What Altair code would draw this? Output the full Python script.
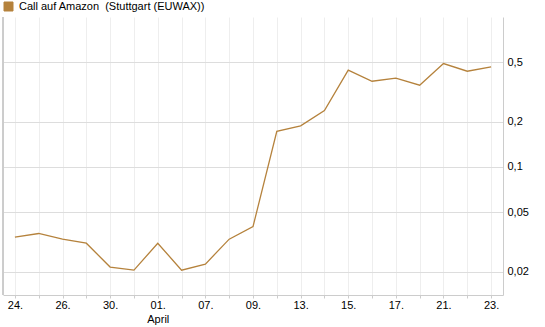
import altair as alt
import pandas as pd

dates = ["24.", "25.", "26.", "27.", "30.", "31.", "01.", "02.", "07.", "08.", "09.",
         "10.", "13.", "14.", "15.", "16.", "17.", "20.", "21.", "22.", "23."]
values = [0.034, 0.036, 0.033, 0.031, 0.0215, 0.0205, 0.031, 0.0205, 0.0225, 0.033, 0.040,
          0.173, 0.188, 0.238, 0.442, 0.373, 0.391, 0.351, 0.489, 0.435, 0.465]
shown_labels = ["24.", "26.", "30.", "01.", "07.", "09.", "13.", "15.", "17.", "21.", "23."]
y_ticks = [0.02, 0.05, 0.1, 0.2, 0.5]
series_name = "Call auf Amazon \u00a0(Stuttgart (EUWAX))"

df = pd.DataFrame({"date": dates, "value": values, "series": series_name})

W, H = 500, 278
FONT = "Liberation Sans"
LINE_COLOR = "#b5823c"

label_js = "[" + ",".join("'" + s + "'" for s in shown_labels) + "]"

x_enc = alt.X(
    "date:O",
    sort=dates,
    scale=alt.Scale(type="point", padding=0.5),
    axis=alt.Axis(
        title=None,
        labelAngle=0,
        labelExpr=f"datum.value == '01.' ? ['01.', 'April'] : (indexof({label_js}, datum.value) >= 0 ? datum.value : '')",
        labelFont=FONT,
        labelFontSize=11,
        labelColor="#000000",
        labelPadding=1,
        labelLineHeight=14,
        tickSize=3,
        tickColor="#cccccc",
        domainColor="#cccccc",
        grid=True,
        gridColor="#eeeeee",
        gridWidth=1,
    ),
)

y_enc = alt.Y(
    "value:Q",
    scale=alt.Scale(type="log", domain=[0.014, 1.0], nice=False),
    axis=alt.Axis(
        title=None,
        orient="right",
        values=y_ticks,
        format=".2~f",
        labelExpr="replace(datum.label, '.', ',')",
        labelFont=FONT,
        labelFontSize=11,
        labelColor="#000000",
        labelPadding=4,
        ticks=False,
        domainColor="#cccccc",
        grid=True,
        gridColor="#dddddd",
        gridWidth=1,
    ),
)

line = alt.Chart(df).mark_line(strokeWidth=1.3).encode(
    x=x_enc,
    y=y_enc,
    color=alt.Color(
        "series:N",
        scale=alt.Scale(range=[LINE_COLOR]),
        legend=alt.Legend(
            title=None,
            orient="none",
            legendX=0,
            legendY=-16,
            padding=0,
            symbolType="square",
            symbolSize=81,
            symbolFillColor=LINE_COLOR,
            symbolStrokeColor="#5a4020",
            symbolStrokeWidth=1,
            labelFont=FONT,
            labelFontSize=11,
            labelColor="#000000",
            labelOffset=5,
            labelLimit=500,
        ),
    ),
)

left_border = alt.Chart(df).mark_rule(color="#cccccc", strokeWidth=1).encode(
    x=alt.value(0), y=alt.value(0), y2=alt.value(H)
)

chart = (
    alt.layer(left_border, line)
    .properties(
        width=W,
        height=H,
        padding={"left": 3, "top": 17, "right": 42, "bottom": 32},
        autosize=alt.AutoSizeParams(type="none"),
        background="white",
    )
    .configure_view(stroke=None)
)

chart.save("out.html", embed_options={"renderer": "svg", "actions": False})
